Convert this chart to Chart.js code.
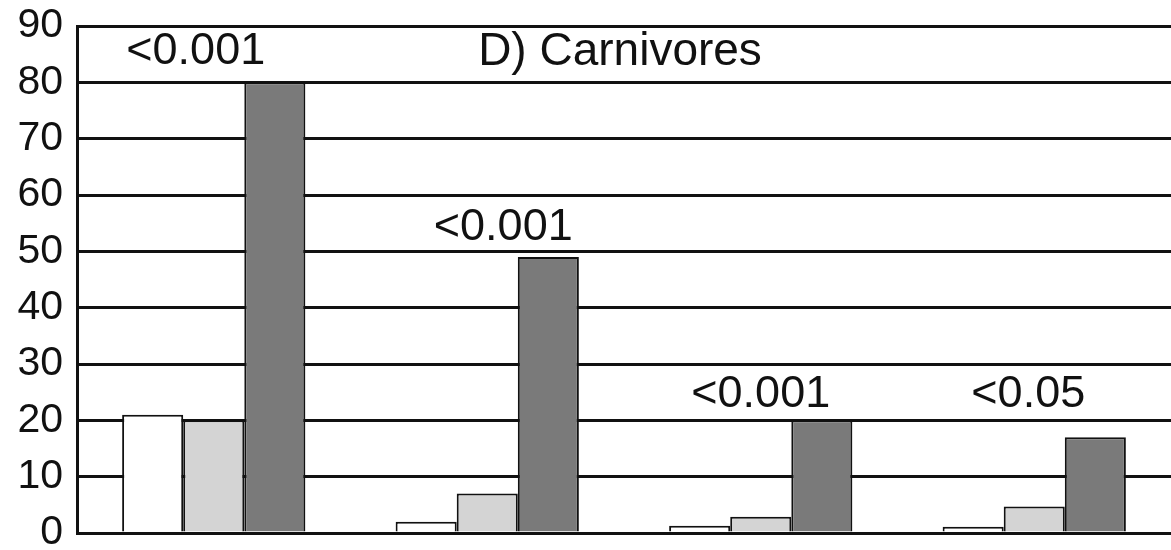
<!DOCTYPE html>
<html>
<head>
<meta charset="utf-8">
<script src="https://cdn.jsdelivr.net/npm/chart.js@4"></script>
<style>
  html, body { margin: 0; padding: 0; background: #fff; }
  #wrap { width: 1171px; height: 550px; }
</style>
</head>
<body>
<div id="wrap"><canvas id="bar_chart"></canvas></div>
<script>
var categories = ['1', '2', '3', '4'];
var whiteVals = [21, 2, 1.3, 1.1];
var lightVals = [20, 7, 2.9, 4.7];
var darkVals = [80, 49, 20, 17];
var pLabels = ['<0.001', '<0.001', '<0.001', '<0.05'];
var pLabelY = [85.4, 54.3, 24.5, 24.5];
var pLabelShift = [-18, 16, 0, -6];
var panelTitle = 'D) Carnivores';

const textPlugin = {
    id: 'pText',
    afterDatasetsDraw(chart) {
        const ctx = chart.ctx;
        const xs = chart.scales.x, ys = chart.scales.y;
        ctx.save();
        ctx.fillStyle = '#111';
        ctx.font = '45px "Liberation Sans", Arial, sans-serif';
        ctx.textAlign = 'center';
        ctx.textBaseline = 'middle';
        pLabels.forEach(function (t, i) {
            ctx.fillText(t, xs.getPixelForValue(i) + pLabelShift[i], ys.getPixelForValue(pLabelY[i]));
        });
        ctx.font = '46px "Liberation Sans", Arial, sans-serif';
        ctx.fillText(panelTitle, xs.getPixelForValue(1.5) - 4, ys.getPixelForValue(pLabelY[0]));
        ctx.restore();
    }
};

const ctx = document.getElementById('bar_chart');
new Chart(ctx, {
    type: 'bar',
    data: {
        labels: categories,
        datasets: [
            { label: 'white', data: whiteVals, backgroundColor: '#ffffff', borderColor: '#111', borderWidth: 2 },
            { label: 'light', data: lightVals, backgroundColor: '#d4d4d4', borderColor: '#111', borderWidth: 2 },
            { label: 'dark', data: darkVals, backgroundColor: '#7a7a7a', borderColor: '#111', borderWidth: 2 }
        ]
    },
    options: {
        responsive: true,
        maintainAspectRatio: false,
        animation: false,
        layout: { padding: { top: 26, bottom: 17, left: 0, right: 0 } },
        datasets: { bar: { barPercentage: 1, categoryPercentage: 0.67 } },
        plugins: { legend: { display: false }, tooltip: { enabled: false } },
        scales: {
            x: {
                afterFit(axis) { axis.height = 0; axis.paddingLeft = 0; axis.paddingRight = 0; },
                grid: { display: false },
                border: { display: true, color: '#111', width: 3 },
                ticks: { display: false }
            },
            y: {
                min: 0, max: 90,
                afterFit(axis) { axis.width = 77; axis.paddingTop = 0; axis.paddingBottom = 0; },
                ticks: {
                    stepSize: 10,
                    color: '#111',
                    padding: 14,
                    font: { family: '"Liberation Sans", Arial, sans-serif', size: 41 }
                },
                grid: { color: '#111', lineWidth: 3, drawTicks: false },
                border: { display: true, color: '#111', width: 3 }
            }
        }
    },
    plugins: [textPlugin]
});
</script>
</body>
</html>
